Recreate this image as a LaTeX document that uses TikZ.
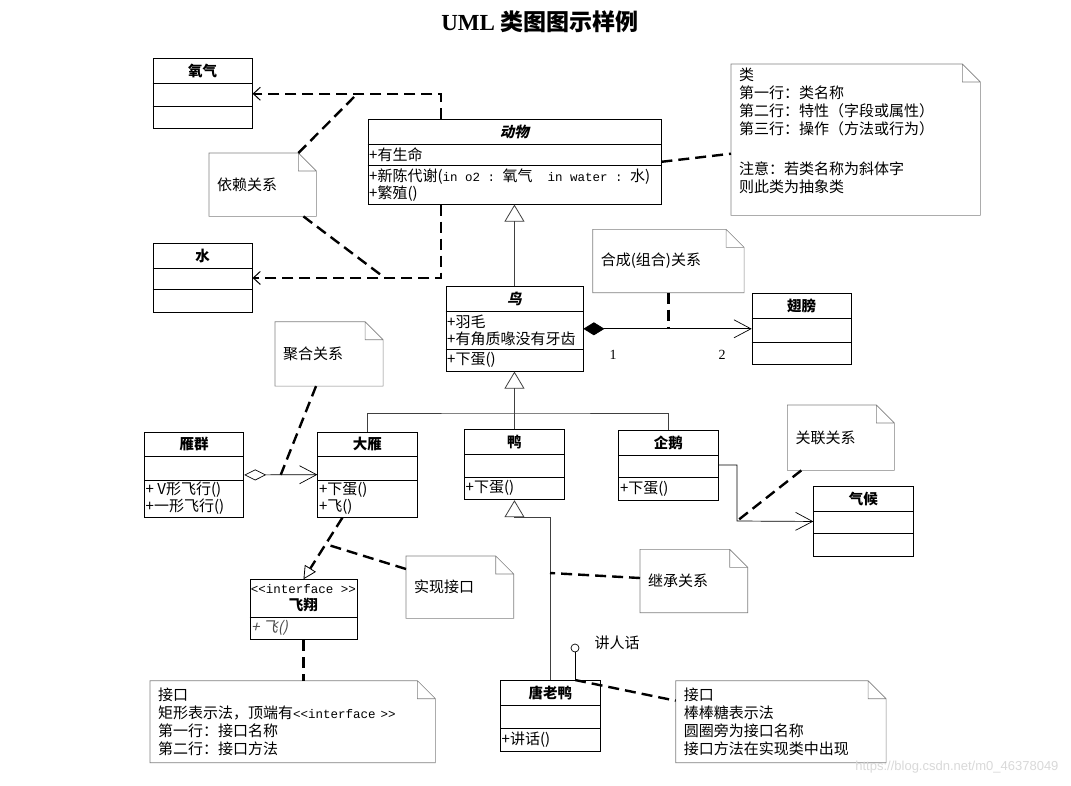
\documentclass[tikz,border=0pt]{standalone}
\usepackage{fontspec}
\setmainfont{Liberation Serif}
\newfontfamily\cjk{Noto Sans CJK SC}
\newfontfamily\cjksl[FakeSlant=0.22]{Noto Sans CJK SC}
\newfontfamily\mono{Liberation Mono}
\newfontfamily\wmfont{Liberation Sans}
\usetikzlibrary{arrows.meta,calc}

\newcommand{\code}[1]{{\mono\fontsize{12.5}{16}\selectfont #1}}

\tikzset{
  clsbox/.style={draw, line width=0.9pt, anchor=north west, inner sep=0pt},
  clsline/.style={line width=0.9pt},
  clsname/.style={font=\cjk\bfseries\fontsize{14.5}{16.5}\selectfont, inner sep=0pt},
  clstext/.style={anchor=west, inner xsep=1.5pt, inner ysep=0pt, align=left,
    font=\cjk\fontsize{15}{17}\selectfont},
  notebox/.style={anchor=north west, inner xsep=8pt, inner ysep=0pt, align=left,
    font=\cjk\fontsize{15}{18}\selectfont},
  noteline/.style={draw=black!50, line width=0.6pt},
  link/.style={line width=2.4pt, dash pattern=on 11pt off 6pt},
  dep/.style={link, -{Straight Barb[length=7pt,width=13pt,line width=1pt]}},
  genline/.style={line width=0.6pt, draw=black!75},
  gen/.style={genline, -{Triangle[open,length=17pt,width=20pt,line width=0.8pt]}},
  real/.style={link, -{Triangle[open,length=13pt,width=13pt,line width=0.8pt]}},
  assoc/.style={line width=0.7pt, -{Straight Barb[length=17pt,width=18pt,line width=0.7pt]}},
  comp/.style={assoc, {Diamond[length=21pt,width=13pt]}-{Straight Barb[length=17pt,width=18pt,line width=0.7pt]}},
  aggr/.style={assoc, {Diamond[open,length=22pt,width=11pt,line width=0.7pt]}-{Straight Barb[length=17pt,width=18pt,line width=0.7pt]}},
}

% name, corner, width, attr row, ops row, title, attrs, ops
\newcommand{\umlclass}[8]{%
  \node[clsbox, minimum width=#3pt, minimum height={25pt+#4pt+#5pt}] (#1) at (#2) {};
  \draw[clsline] ([yshift=-25pt]#1.north west) -- ([yshift=-25pt]#1.north east);
  \draw[clsline] ([yshift={-25pt-#4pt}]#1.north west) -- ([yshift={-25pt-#4pt}]#1.north east);
  \node[clsname] (#1-name) at ([yshift=-12.5pt]#1.north) {#6};
  \node[clstext] (#1-attr) at ([yshift={-25pt-#4pt/2}]#1.north west) {#7};
  \node[clstext] (#1-ops) at ([yshift={-25pt-#4pt-#5pt/2}]#1.north west) {#8};
}

\begin{document}
\begin{tikzpicture}[x=1pt,y=-1pt]
  \fill[white] (0,0) rectangle (1071,785);
  \useasboundingbox (0,0) rectangle (1071,785);

  \node[font=\bfseries\fontsize{23}{26}\selectfont] (title) at (540,22) {UML {\cjk 类图图示样例}};

  % classes
  \umlclass{oxygen}{152.7,58.3}{99}{22.7}{22.3}{氧气}{}{}
  \umlclass{water}{152.7,243}{99}{21.7}{22.3}{水}{}{}
  \umlclass{animal}{367.5,119}{293}{21.7}{38}{\cjksl 动物}{+有生命}%
    {+新陈代谢(\code{in o2 :~}氧气\code{~~in water :~}水)\\+繁殖()}
  \umlclass{bird}{445.5,286}{137}{38}{21.7}{\cjksl 鸟}{+羽毛\\+有角质喙没有牙齿}{+下蛋()}
  \umlclass{wing}{751.7,293}{99}{24}{21.7}{翅膀}{}{}
  \umlclass{flock}{144,431.7}{99.3}{23.3}{37.3}{雁群}{}{+ V形飞行()\\+一形飞行()}
  \umlclass{goose}{317.3,431.7}{99.4}{23.3}{36.7}{大雁}{}{+下蛋()\\+飞()}
  \umlclass{duck}{464,429.3}{100}{22.7}{22.3}{鸭}{}{+下蛋()}
  \umlclass{penguin}{618.3,430}{99.4}{22.6}{22.4}{企鹅}{}{+下蛋()}
  \umlclass{climate}{813.3,486}{99.4}{22.3}{22.7}{气候}{}{}
  \umlclass{donald}{500,680}{100}{23}{22.7}{唐老鸭}{}{+讲话()}

  % interface
  \node[clsbox, minimum width=107pt, minimum height=60pt] (fly) at (249.5,579.3) {};
  \draw[clsline] ([yshift=-38pt]fly.north west) -- ([yshift=-38pt]fly.north east);
  \node[clsname, align=center] (fly-name) at ([yshift=-19pt]fly.north)
    {{\mdseries\code{<<interface >>}}\\飞翔};
  \node[clstext, text=black!70] (fly-ops) at ([yshift=-49pt]fly.north west) {\cjksl + 飞()};

  % notes
  \node[notebox, text width=91pt, minimum height=63pt] (depnote) at (209,153) {依赖关系};
  \node[notebox, text width=233pt, minimum height=151pt] (classnote) at (731,64)
    {类\\第一行：类名称\\第二行：特性（字段或属性）\\第三行：操作（方法或行为）\\[22pt]注意：若类名称为斜体字\\则此类为抽象类\\\mbox{}};
  \node[notebox, text width=135pt, minimum height=63pt] (compnote) at (592.7,229.3) {合成(组合)关系};
  \node[notebox, text width=91.7pt, minimum height=64pt] (aggrnote) at (275,321.7) {聚合关系};
  \node[notebox, text width=90.7pt, minimum height=65pt] (assocnote) at (787.3,405) {关联关系};
  \node[notebox, text width=91.3pt, minimum height=62pt] (realnote) at (406,556) {实现接口};
  \node[notebox, text width=91.3pt, minimum height=63pt] (inhnote) at (640,549.3) {继承关系};
  \node[notebox, text width=269pt, minimum height=81.6pt] (ifnote) at (150,680.7)
    {接口\\矩形表示法，顶端有\code{<<interface >>}\\第一行：接口名称\\第二行：接口方法};
  \node[notebox, text width=194pt, minimum height=81.6pt] (lolnote) at (675.7,680.7)
    {接口\\棒棒糖表示法\\圆圈旁为接口名称\\接口方法在实现类中出现};
  \foreach \n in {depnote,classnote,compnote,aggrnote,assocnote,realnote,inhnote,ifnote,lolnote}
    \draw[noteline] (\n.north west) -- ([xshift=-18pt]\n.north east) -- ([yshift=-18pt]\n.north east)
      -- (\n.south east) -- (\n.south west) -- cycle
      ([xshift=-18pt]\n.north east) |- ([yshift=-18pt]\n.north east);

  % dependency
  \coordinate (depx) at (441,93);
  \coordinate (dep1) at (358,93);
  \coordinate (dep2) at (385,278);
  \draw[dep] (animal.north -| depx) |- (oxygen.east);
  \draw[dep] (animal.south -| depx) |- (water.east);
  \draw[link] ([xshift=-18pt]depnote.north east) -- (dep1);
  \draw[link] ([xshift=-13pt]depnote.south east) -- (dep2);
  \draw[link] (animal.east) -- ([yshift=-14pt]classnote.west);

  % generalization
  \coordinate (bus) at (514,413);
  \draw[gen] (bird.north) -- (animal.south);
  \draw[gen] (duck.north) -- (bird.south);
  \draw[genline] (goose.north) |- (bus) -| (penguin.north);
  \draw[gen] (donald.north) |- ([yshift=-17pt]duck.south) -- (duck.south);
  \coordinate (inhpt) at (550,573);
  \draw[link] ([yshift=3pt]inhnote.west) -- (inhpt);

  % composition
  \draw[comp] (bird.east) -- (wing.west);
  \node[font=\fontsize{14}{16}\selectfont] (mult1) at (613,355) {1};
  \node[font=\fontsize{14}{16}\selectfont] (mult2) at (722,355) {2};
  \draw[link] (compnote.south) -- (compnote.south |- bird.east);

  % aggregation
  \draw[aggr] (flock.east) -- (goose.west);
  \draw[link] ([xshift=-13pt]aggrnote.south) -- ($(flock.east)!0.5!(goose.west)$);

  % association
  \coordinate (abend) at (737,521);
  \draw[assoc] ([yshift=-35pt]penguin.north east) -| (abend) -- (climate.west);
  \draw[link] ([xshift=14pt]assocnote.south west) -- (abend);

  % realization
  \draw[real] ([xshift=-25pt]goose.south) -- (fly.north);
  \draw[link] ([yshift=-13pt]realnote.north west) -- ($([xshift=-25pt]goose.south)!0.43!(fly.north)$);
  \draw[link] (fly.south) -- (fly.south |- ifnote.north);

  % lollipop
  \node[draw, circle, minimum size=8pt, inner sep=0pt, line width=0.7pt] (speak) at (575,648) {};
  \draw[line width=0.7pt] (speak.south) -- (speak.south |- donald.north);
  \node[font=\cjk\fontsize{15}{18}\selectfont, anchor=west] (speak-label) at (591,643) {讲人话};
  \draw[link] (speak.south |- donald.north) -- ([yshift=-20pt]lolnote.north west);

  \node[font=\wmfont\fontsize{13}{15}\selectfont, text=black!15, anchor=east] (mark) at (1062,767)
    {https://blog.csdn.net/m0\_46378049};
\end{tikzpicture}
\end{document}
